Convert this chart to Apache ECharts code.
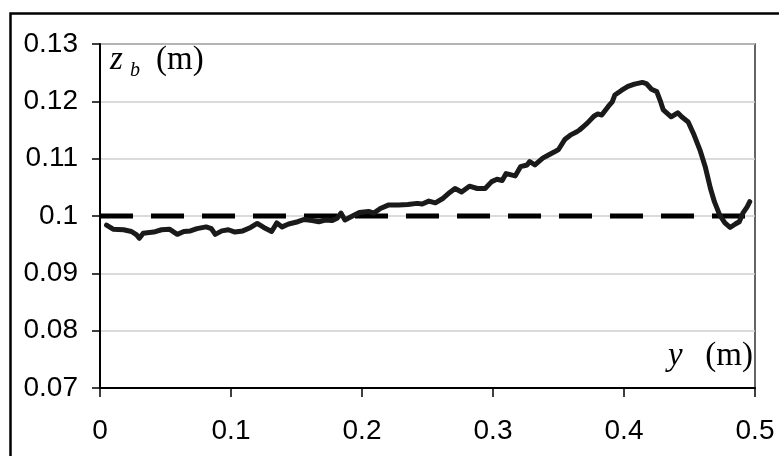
<!DOCTYPE html>
<html>
<head>
<meta charset="utf-8">
<script src="https://cdn.jsdelivr.net/npm/echarts@6/dist/echarts.min.js"></script>
<style>
  html, body { margin: 0; padding: 0; background: #fff; }
  #chart { width: 779px; height: 456px; }
</style>
</head>
<body>
<div id="chart"></div>
<script>
// Bed elevation profile z_b across the channel width y
const yPos = [
  0.005, 0.010, 0.018, 0.024, 0.028, 0.030, 0.033, 0.041, 0.047, 0.053,
  0.059, 0.064, 0.069, 0.074, 0.081, 0.085, 0.088, 0.093, 0.098, 0.103,
  0.109, 0.115, 0.120, 0.125, 0.131, 0.135, 0.139, 0.144, 0.151, 0.156,
  0.162, 0.167, 0.172, 0.177, 0.181, 0.184, 0.187, 0.192, 0.198, 0.205,
  0.209, 0.214, 0.220, 0.228, 0.235, 0.242, 0.246, 0.251, 0.256, 0.262,
  0.267, 0.271, 0.276, 0.282, 0.288, 0.294, 0.299, 0.303, 0.307, 0.310,
  0.317, 0.321, 0.326, 0.328, 0.332, 0.338, 0.342, 0.347, 0.350, 0.355,
  0.359, 0.364, 0.366, 0.369, 0.372, 0.377, 0.380, 0.383, 0.388, 0.391,
  0.393, 0.398, 0.403, 0.408, 0.414, 0.417, 0.421, 0.425, 0.428, 0.430,
  0.436, 0.441, 0.444, 0.449, 0.453, 0.458, 0.462, 0.466, 0.469, 0.473,
  0.477, 0.481, 0.485, 0.488, 0.491, 0.494, 0.496
];
const zBed = [
  0.0984, 0.0977, 0.0976, 0.0973, 0.0967, 0.0961, 0.0970, 0.0972, 0.0976, 0.0977,
  0.0968, 0.0973, 0.0974, 0.0978, 0.0981, 0.0978, 0.0968, 0.0974, 0.0976, 0.0972,
  0.0974, 0.0980, 0.0987, 0.0980, 0.0973, 0.0988, 0.0981, 0.0986, 0.0990, 0.0994,
  0.0992, 0.0990, 0.0993, 0.0992, 0.0996, 0.1005, 0.0993, 0.0999, 0.1006, 0.1008,
  0.1005, 0.1013, 0.1019, 0.1019, 0.1020, 0.1022, 0.1021, 0.1026, 0.1023, 0.1031,
  0.1041, 0.1048, 0.1042, 0.1052, 0.1048, 0.1048, 0.1060, 0.1064, 0.1062, 0.1074,
  0.1070, 0.1086, 0.1089, 0.1095, 0.1089, 0.1101, 0.1106, 0.1112, 0.1116, 0.1134,
  0.1141, 0.1147, 0.1150, 0.1156, 0.1162, 0.1174, 0.1178, 0.1176, 0.1191, 0.1199,
  0.1211, 0.1219, 0.1226, 0.1230, 0.1233, 0.1231, 0.1221, 0.1217, 0.1199, 0.1185,
  0.1173, 0.1180, 0.1173, 0.1164, 0.1144, 0.1115, 0.1086, 0.1048, 0.1025, 0.1002,
  0.0988, 0.0980, 0.0986, 0.0990, 0.1006, 0.1016, 0.1025
];
// Initial flat bed level
const initialLevel = 0.1;
const yRange = [0, 0.5];
const yTickStep = 0.1;
const zRange = [0.07, 0.13];
const zTickStep = 0.01;

const chart = echarts.init(document.getElementById('chart'), null, { renderer: 'canvas' });

const bedPoints = yPos.map((v, i) => [v, zBed[i]]);
const levelPoints = [[yRange[0], initialLevel], [yRange[1], initialLevel]];

const tickFont = { fontFamily: '"Liberation Sans", Arial, sans-serif', fontSize: 28, color: '#000' };
const SERIF = '"Liberation Serif", "Times New Roman", serif';

function label(text, x, y, size, italic, align) {
  return {
    type: 'text',
    silent: true,
    style: {
      text: text, x: x, y: y,
      fontFamily: SERIF, fontSize: size, fontStyle: italic ? 'italic' : 'normal',
      fill: '#000', align: align || 'left', verticalAlign: 'middle'
    }
  };
}

chart.setOption({
  animation: false,
  backgroundColor: '#fff',
  grid: {
    left: 100, top: 44, right: 24, bottom: 68,
    show: true, borderColor: '#333', borderWidth: 1.5, backgroundColor: 'transparent'
  },
  xAxis: {
    type: 'value',
    min: yRange[0], max: yRange[1], interval: yTickStep,
    axisLine: { show: true, lineStyle: { color: '#000', width: 2 } },
    axisTick: { show: true, inside: false, length: 9, lineStyle: { color: '#000', width: 1.5 } },
    axisLabel: Object.assign({ margin: 29 }, tickFont),
    splitLine: { show: false }
  },
  yAxis: {
    type: 'value',
    min: zRange[0], max: zRange[1], interval: zTickStep,
    axisLine: { show: true, lineStyle: { color: '#000', width: 2 } },
    axisTick: { show: true, inside: false, length: 8, lineStyle: { color: '#000', width: 1.5 } },
    axisLabel: Object.assign({ margin: 22, formatter: v => String(+v.toFixed(2)) }, tickFont),
    splitLine: { show: true, lineStyle: { color: '#cfcfcf', width: 1.5 } }
  },
  series: [
    {
      name: 'initial level',
      type: 'line',
      data: levelPoints,
      symbol: 'none',
      silent: true,
      lineStyle: { color: '#000', width: 5, type: [33, 18] },
      z: 2
    },
    {
      name: 'z_b',
      type: 'line',
      data: bedPoints,
      symbol: 'none',
      silent: true,
      lineStyle: { color: '#1a1a1a', width: 5, join: 'round', cap: 'round' },
      z: 3
    }
  ],
  graphic: [
    {
      type: 'rect',
      silent: true,
      shape: { x: 10.5, y: 13.5, width: 900, height: 600 },
      style: { fill: 'transparent', stroke: '#000', lineWidth: 2.5 }
    },
    label('z', 110, 60, 33, true),
    label('b', 130, 71, 20, true),
    label('(m)', 156, 60, 33, false),
    label('y', 668, 356, 33, true),
    label('(m)', 753, 356, 33, false, 'right')
  ]
});
</script>
</body>
</html>
